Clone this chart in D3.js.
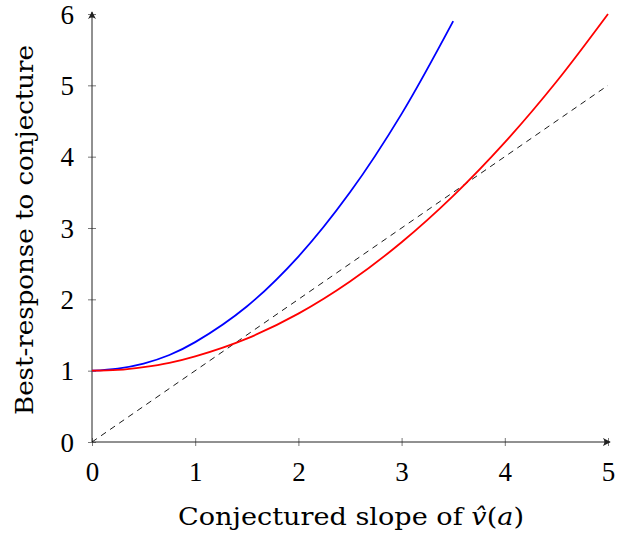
<!DOCTYPE html>
<html>
<head>
<meta charset="utf-8">
<script src="https://cdn.jsdelivr.net/npm/d3@7"></script>
<style>
  body { margin: 0; background: #fff; }
  text { font-family: "Liberation Serif", "DejaVu Serif", serif; fill: #000; }
  .lbl { font-family: "DejaVu Serif", serif; }
</style>
</head>
<body>
<div id="chart"></div>
<script>
// values
let xTicks = [0, 1, 2, 3, 4, 5];
let yTicks = [0, 1, 2, 3, 4, 5, 6];

let redX = [0, 0.25, 0.5, 0.75, 1, 1.5, 2, 2.5, 3, 3.5, 4, 4.5, 5];
let redY = [1, 1.01, 1.05, 1.11, 1.2, 1.45, 1.8, 2.25, 2.8, 3.45, 4.2, 5.05, 6];

let blueX = [0, 0.25, 0.5, 0.75, 1, 1.5, 2, 2.5, 3, 3.5];
let blueY = [1, 1.03, 1.1, 1.22, 1.4, 1.9, 2.6, 3.5, 4.6, 5.9];

let diagX = [0, 5];
let diagY = [0, 5];

let margin = {top: 14, right: 11, bottom: 96, left: 92},
  width = 619 - margin.left - margin.right,
  height = 538 - margin.top - margin.bottom;

let svg = d3.select("#chart")
  .append("svg")
  .attr("width", 619)
  .attr("height", 538)
  .append("g")
  .attr("transform", "translate(" + margin.left + "," + margin.top + ")");

let x = d3.scaleLinear().domain([0, 5]).range([0, width]);
let y = d3.scaleLinear().domain([0, 6]).range([height, 0]);

// arrow head
svg.append("defs").append("marker")
  .attr("id", "arrow")
  .attr("viewBox", "0 0 10 10")
  .attr("refX", 9).attr("refY", 5)
  .attr("markerWidth", 8).attr("markerHeight", 8)
  .attr("markerUnits", "userSpaceOnUse")
  .attr("orient", "auto")
  .append("path")
  .attr("d", "M0,0 Q4,5 0,10 L10,5 Z")
  .attr("fill", "#222");

// X axis
let xAxis = svg.append("g")
  .attr("transform", "translate(0," + height + ")")
  .call(d3.axisBottom(x).tickValues(xTicks).tickSize(0).tickPadding(20).tickFormat(d3.format("d")));
xAxis.select(".domain").remove();
xAxis.selectAll("text").style("font-size", "27px");
xAxis.selectAll(".tick").append("line")
  .attr("y1", -4).attr("y2", 4)
  .attr("stroke", "#555").attr("stroke-width", 0.8);

// Y axis
let yAxis = svg.append("g")
  .call(d3.axisLeft(y).tickValues(yTicks).tickSize(0).tickPadding(18).tickFormat(d3.format("d")));
yAxis.select(".domain").remove();
yAxis.selectAll("text").style("font-size", "27px").attr("dy", "0.34em");
yAxis.selectAll(".tick").append("line")
  .attr("x1", -4).attr("x2", 4)
  .attr("stroke", "#555").attr("stroke-width", 0.8);

// axis lines with arrows
svg.append("line")
  .attr("x1", x(0)).attr("y1", y(0))
  .attr("x2", x(5) + 2).attr("y2", y(0))
  .attr("stroke", "#222").attr("stroke-width", 1)
  .attr("marker-end", "url(#arrow)");
svg.append("line")
  .attr("x1", x(0)).attr("y1", y(0))
  .attr("x2", x(0)).attr("y2", y(6) - 2)
  .attr("stroke", "#222").attr("stroke-width", 1)
  .attr("marker-end", "url(#arrow)");

let line = d3.line()
  .x(d => x(d[0]))
  .y(d => y(d[1]))
  .curve(d3.curveCatmullRom.alpha(0.5));

svg.append("path")
  .datum(d3.zip(diagX, diagY))
  .attr("d", line)
  .attr("fill", "none")
  .attr("stroke", "#000")
  .attr("stroke-width", 0.9)
  .attr("stroke-dasharray", "6,5");

svg.append("path")
  .datum(d3.zip(blueX, blueY))
  .attr("d", line)
  .attr("fill", "none")
  .attr("stroke", "#0000ff")
  .attr("stroke-width", 1.8);

svg.append("path")
  .datum(d3.zip(redX, redY))
  .attr("d", line)
  .attr("fill", "none")
  .attr("stroke", "#ff0000")
  .attr("stroke-width", 1.8);

// axis labels
let xl = svg.append("text")
  .attr("class", "lbl")
  .attr("x", 351 - margin.left)
  .attr("y", height + 83)
  .attr("text-anchor", "middle")
  .attr("textLength", 346)
  .attr("lengthAdjust", "spacingAndGlyphs")
  .style("font-size", "24px");
xl.append("tspan").text("Conjectured slope of ");
xl.append("tspan").style("font-style", "italic").text("v\u0302");
xl.append("tspan").text("(");
xl.append("tspan").style("font-style", "italic").text("a");
xl.append("tspan").text(")");

svg.append("text")
  .attr("class", "lbl")
  .attr("transform", "translate(-59," + (230 - margin.top) + ") rotate(-90)")
  .attr("text-anchor", "middle")
  .attr("textLength", 370)
  .attr("lengthAdjust", "spacingAndGlyphs")
  .style("font-size", "24px")
  .text("Best-response to conjecture");
</script>
</body>
</html>
